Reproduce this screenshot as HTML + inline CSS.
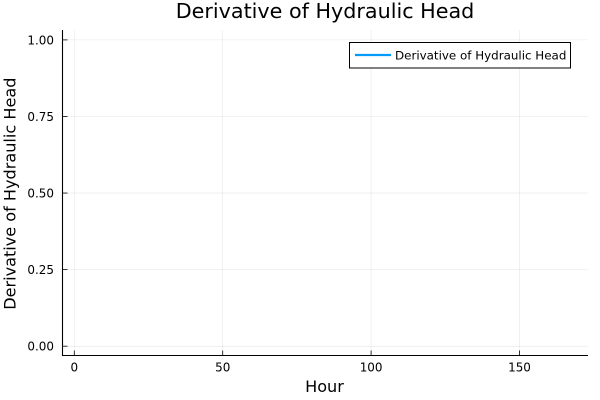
<!DOCTYPE html>
<html>
<head>
<meta charset="utf-8">
<title>Derivative of Hydraulic Head</title>
<style>
html,body{margin:0;padding:0;background:#fff;width:600px;height:400px;overflow:hidden}
svg{display:block;font-family:"DejaVu Sans","Liberation Sans",sans-serif;fill:#000}
</style>
</head>
<body>
<svg id="chart" width="600" height="400" viewBox="0 0 600 400" xmlns="http://www.w3.org/2000/svg">
  <rect x="0" y="0" width="600" height="400" fill="#fff"/>
  <g id="grid"></g>
  <g id="series"></g>
  <line x1="62" y1="355.5" x2="588" y2="355.5" stroke="#000" stroke-width="1.1"/>
  <line x1="62.5" y1="30" x2="62.5" y2="355.5" stroke="#000" stroke-width="1.1"/>
  <g id="ticks"></g>
  <text x="325" y="18" font-size="20.7" text-anchor="middle">Derivative of Hydraulic Head</text>
  <text x="324.5" y="392" font-size="16.1" text-anchor="middle">Hour</text>
  <text transform="translate(15.7 193.7) rotate(-90)" font-size="16.1" text-anchor="middle">Derivative of Hydraulic Head</text>
  <g>
    <rect x="349.5" y="42.5" width="221" height="25.5" fill="#fff" stroke="#000" stroke-width="1"/>
    <line x1="355" y1="55" x2="391" y2="55" stroke="#009af9" stroke-width="2.2"/>
    <text x="395" y="59.3" font-size="11.88">Derivative of Hydraulic Head</text>
  </g>
</svg>
<script>
const xTicks = [0, 50, 100, 150];
const yTicks = [0, 0.25, 0.5, 0.75, 1];
const yTickLabels = ["0.00", "0.25", "0.50", "0.75", "1.00"];
// The reference draws no visible line: the series has no plottable values.
const hours = [];
const derivativeValues = [];

const NS = "http://www.w3.org/2000/svg";
function xScale(v) { return 74.3 + (v - 0) * (519.5 - 74.3) / 150; }
function yScale(v) { return 346.2 - (v - 0) * (346.2 - 39.9) / 1; }

function makeLine(parent, x1, y1, x2, y2, stroke, width, opacity) {
  const l = document.createElementNS(NS, "line");
  l.setAttribute("x1", x1);
  l.setAttribute("y1", y1);
  l.setAttribute("x2", x2);
  l.setAttribute("y2", y2);
  l.setAttribute("stroke", stroke);
  l.setAttribute("stroke-width", width);
  l.setAttribute("stroke-opacity", opacity);
  parent.appendChild(l);
  return l;
}
function makeText(parent, x, y, anchor, content) {
  const t = document.createElementNS(NS, "text");
  t.setAttribute("x", x);
  t.setAttribute("y", y);
  t.setAttribute("text-anchor", anchor);
  t.setAttribute("font-size", "11.95");
  t.textContent = content;
  parent.appendChild(t);
  return t;
}

const grid = document.getElementById("grid");
const ticks = document.getElementById("ticks");

xTicks.forEach(function (v) {
  const x = xScale(v);
  const g = makeLine(grid, x, 30, x, 355, "#000", 0.55, 0.1);
  
  
  const m = makeLine(ticks, x, 355, x, 350.5, "#000", 0.8, 1);
  
  
  const t = makeText(ticks, x, 371.5, "middle", String(v));
  
  
});

yTicks.forEach(function (v, i) {
  const y = yScale(v);
  const g = makeLine(grid, 62, y, 588, y, "#000", 0.55, 0.1);
  
  
  const m = makeLine(ticks, 62, y, 67.5, y, "#000", 0.8, 1);
  
  
  const t = makeText(ticks, 54, y + 4.4, "end", yTickLabels[i]);
  
  
});

const pts = hours.map(function (h, i) { return xScale(h) + "," + yScale(derivativeValues[i]); });
const seriesLine = document.createElementNS(NS, "polyline");
seriesLine.setAttribute("points", pts.join(" "));
seriesLine.setAttribute("fill", "none");
seriesLine.setAttribute("stroke", "#009af9");
seriesLine.setAttribute("stroke-width", "2.2");


document.getElementById("series").appendChild(seriesLine);
</script>
</body>
</html>
